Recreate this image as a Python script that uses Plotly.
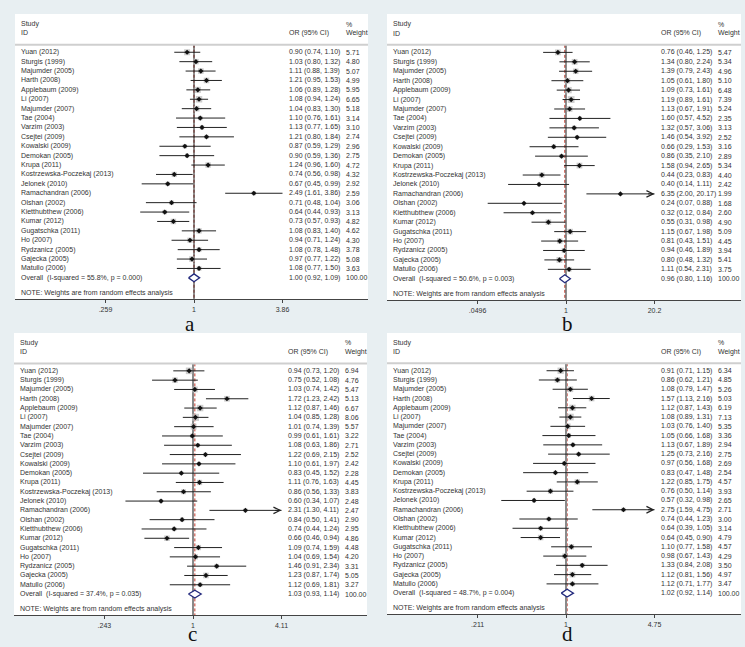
import numpy as np
import plotly.graph_objects as go

studies = ["Yuan (2012)", "Sturgis (1999)", "Majumder (2005)", "Harth (2008)", "Applebaum (2009)",
           "Li (2007)", "Majumder (2007)", "Tae (2004)", "Varzim (2003)", "Csejtei (2009)",
           "Kowalski (2009)", "Demokan (2005)", "Krupa (2011)", "Kostrzewska-Poczekaj (2013)",
           "Jelonek (2010)", "Ramachandran (2006)", "Olshan (2002)", "Kietthubthew (2006)",
           "Kumar (2012)", "Gugatschka (2011)", "Ho (2007)", "Rydzanicz (2005)", "Gajecka (2005)",
           "Matullo (2006)"]

# Panel a
a_or = [0.90, 1.03, 1.11, 1.21, 1.06, 1.08, 1.04, 1.10, 1.13, 1.21, 0.87, 0.90, 1.24, 0.74, 0.67, 2.49, 0.71, 0.64, 0.73, 1.08, 0.94, 1.08, 0.97, 1.08]
a_lo = [0.74, 0.80, 0.88, 0.95, 0.89, 0.94, 0.83, 0.76, 0.77, 0.80, 0.59, 0.59, 0.96, 0.56, 0.45, 1.61, 0.48, 0.44, 0.57, 0.83, 0.71, 0.78, 0.77, 0.77]
a_hi = [1.10, 1.32, 1.39, 1.53, 1.28, 1.24, 1.30, 1.61, 1.65, 1.84, 1.29, 1.36, 1.60, 0.98, 0.99, 3.86, 1.04, 0.93, 0.93, 1.40, 1.24, 1.48, 1.22, 1.50]
a_w = [5.71, 4.80, 5.07, 4.99, 5.95, 6.65, 5.18, 3.14, 3.10, 2.74, 2.96, 2.75, 4.72, 4.32, 2.92, 2.59, 3.06, 3.13, 4.82, 4.62, 4.30, 3.78, 5.08, 3.63]
a_overall = [1.00, 0.92, 1.09]
a_stats = ["55.8%", "0.000"]
a_ticks = [0.259, 1, 3.86]
a_ticktext = [".259", "1", "3.86"]

# Panel b
b_or = [0.76, 1.34, 1.39, 1.05, 1.09, 1.19, 1.13, 1.60, 1.32, 1.46, 0.66, 0.86, 1.58, 0.44, 0.40, 6.35, 0.24, 0.32, 0.55, 1.15, 0.81, 0.94, 0.80, 1.11]
b_lo = [0.46, 0.80, 0.79, 0.61, 0.73, 0.89, 0.67, 0.57, 0.57, 0.54, 0.29, 0.35, 0.94, 0.23, 0.14, 2.00, 0.07, 0.12, 0.31, 0.67, 0.43, 0.46, 0.48, 0.54]
b_hi = [1.25, 2.24, 2.43, 1.80, 1.61, 1.61, 1.91, 4.52, 3.06, 3.92, 1.53, 2.10, 2.65, 0.83, 1.11, 20.17, 0.88, 0.84, 0.98, 1.98, 1.51, 1.89, 1.32, 2.31]
b_w = [5.47, 5.34, 4.96, 5.10, 6.48, 7.39, 5.24, 2.35, 3.13, 2.52, 3.16, 2.89, 5.34, 4.40, 2.42, 1.99, 1.68, 2.60, 4.90, 5.09, 4.45, 3.94, 5.41, 3.75]
b_overall = [0.96, 0.80, 1.16]
b_stats = ["50.6%", "0.003"]
b_ticks = [0.0496, 1, 20.2]
b_ticktext = [".0496", "1", "20.2"]

# Panel c
c_or = [0.94, 0.75, 1.03, 1.72, 1.12, 1.04, 1.01, 0.99, 1.08, 1.22, 1.10, 0.83, 1.11, 0.86, 0.60, 2.31, 0.84, 0.74, 0.66, 1.09, 1.04, 1.46, 1.23, 1.12]
c_lo = [0.73, 0.52, 0.74, 1.23, 0.87, 0.85, 0.74, 0.61, 0.63, 0.69, 0.61, 0.45, 0.76, 0.56, 0.34, 1.30, 0.50, 0.44, 0.46, 0.74, 0.69, 0.91, 0.87, 0.69]
c_hi = [1.20, 1.08, 1.42, 2.42, 1.46, 1.28, 1.39, 1.61, 1.86, 2.15, 1.97, 1.52, 1.63, 1.33, 1.07, 4.11, 1.41, 1.24, 0.94, 1.59, 1.54, 2.34, 1.74, 1.81]
c_w = [6.94, 4.76, 5.47, 5.13, 6.67, 8.06, 5.57, 3.22, 2.71, 2.52, 2.42, 2.28, 4.45, 3.83, 2.48, 2.47, 2.90, 2.95, 4.86, 4.48, 4.20, 3.31, 5.05, 3.27]
c_overall = [1.03, 0.93, 1.14]
c_stats = ["37.4%", "0.035"]
c_ticks = [0.243, 1, 4.11]
c_ticktext = [".243", "1", "4.11"]

# Panel d
d_or = [0.91, 0.86, 1.08, 1.57, 1.12, 1.08, 1.03, 1.05, 1.13, 1.25, 0.97, 0.83, 1.22, 0.76, 0.57, 2.75, 0.74, 0.64, 0.64, 1.10, 0.98, 1.33, 1.12, 1.12]
d_lo = [0.71, 0.62, 0.79, 1.13, 0.87, 0.89, 0.76, 0.66, 0.67, 0.73, 0.56, 0.47, 0.85, 0.50, 0.32, 1.59, 0.44, 0.39, 0.45, 0.77, 0.67, 0.84, 0.81, 0.71]
d_hi = [1.15, 1.21, 1.47, 2.16, 1.43, 1.31, 1.40, 1.68, 1.89, 2.16, 1.68, 1.48, 1.75, 1.14, 0.98, 4.75, 1.23, 1.05, 0.90, 1.58, 1.43, 2.08, 1.56, 1.77]
d_w = [6.34, 4.85, 5.26, 5.03, 6.19, 7.13, 5.35, 3.36, 2.94, 2.75, 2.69, 2.54, 4.57, 3.93, 2.65, 2.71, 3.00, 3.14, 4.79, 4.57, 4.29, 3.50, 4.97, 3.47]
d_overall = [1.02, 0.92, 1.14]
d_stats = ["48.7%", "0.004"]
d_ticks = [0.211, 1, 4.75]
d_ticktext = [".211", "1", "4.75"]

panel_letters = ["a", "b", "c", "d"]

W, H = 745, 647
FONT = "Liberation Sans, Arial, sans-serif"
TXT = "#333333"

panels = [
    dict(OR=a_or, lo=a_lo, hi=a_hi, w=a_w, ov=a_overall, st=a_stats, ticks=a_ticks, tt=a_ticktext,
         box=(15, 14, 368, 299), letter=(190, 324, "middle"), arrow=None, null=("#222222", 1)),
    dict(OR=b_or, lo=b_lo, hi=b_hi, w=b_w, ov=b_overall, st=b_stats, ticks=b_ticks, tt=b_ticktext,
         box=(387, 14, 741, 300), letter=(567, 324, "middle"), arrow="Ramachandran (2006)", null=("#222222", 1)),
    dict(OR=c_or, lo=c_lo, hi=c_hi, w=c_w, ov=c_overall, st=c_stats, ticks=c_ticks, tt=c_ticktext,
         box=(14, 333, 367, 615), letter=(192, 647, "bottom"), arrow="Ramachandran (2006)", null=("#8a8a8a", 2)),
    dict(OR=d_or, lo=d_lo, hi=d_hi, w=d_w, ov=d_overall, st=d_stats, ticks=d_ticks, tt=d_ticktext,
         box=(387, 333, 741, 614), letter=(567, 647, "bottom"), arrow="Ramachandran (2006)", null=("#8a8a8a", 2)),
]

fig = go.Figure()
layout_axes = {}
annotations = []
shapes = []

Y_TOP, Y_BOT = -4.07, 26.25
HDR_LINE = -0.8
n = len(studies)
rows = list(range(n))
ov_row = n


def ann(text, px, y, yref, size=7, color=TXT):
    annotations.append(dict(text=text, x=px / W, xref="paper", y=y, yref=yref,
                            xanchor="left", yanchor="middle", showarrow=False,
                            font=dict(family=FONT, size=size, color=color)))


for k, P in enumerate(panels):
    idx = "" if k == 0 else str(k + 1)
    xa, ya = "x" + idx, "y" + idx
    L, T, R, B = P["box"]
    maxt = P["ticks"][-1]
    ppu = 88.5 / np.log(maxt)
    null_off = 179.0
    rng = [(-null_off / ppu) / np.log(10), ((R - L - null_off) / ppu) / np.log(10)]
    layout_axes["xaxis" + idx] = dict(
        domain=[L / W, R / W], anchor=ya, type="log", range=rng,
        tickvals=P["ticks"], ticktext=P["tt"], ticks="outside", ticklen=3,
        tickcolor="#444444", showline=True, linecolor="#444444", linewidth=1.2,
        showgrid=False, zeroline=False, fixedrange=True,
        tickfont=dict(family=FONT, size=7, color=TXT))
    layout_axes["yaxis" + idx] = dict(
        domain=[1 - B / H, 1 - T / H], anchor=xa, range=[Y_BOT, Y_TOP],
        visible=False, fixedrange=True)

    ov, ovlo, ovhi = P["ov"]
    # overall (red dashed) line and null line
    fig.add_trace(go.Scatter(x=[ov, ov], y=[HDR_LINE, Y_BOT], mode="lines", xaxis=xa, yaxis=ya,
                             line=dict(color="#c0392b", width=1, dash="3px,2px"), hoverinfo="skip"))
    fig.add_trace(go.Scatter(x=[1, 1], y=[HDR_LINE, Y_BOT], mode="lines", xaxis=xa, yaxis=ya,
                             line=dict(color=P["null"][0], width=P["null"][1]), hoverinfo="skip"))
    # boxes
    fig.add_trace(go.Scatter(x=P["OR"], y=rows, mode="markers", xaxis=xa, yaxis=ya,
                             marker=dict(symbol="square", size=[2.5 * np.sqrt(w) for w in P["w"]],
                                         color="#b8b8b8", line=dict(width=0)), hoverinfo="skip"))
    # CI lines
    xs, ys = [], []
    for i in rows:
        hi = P["hi"][i]
        if P["arrow"] == studies[i]:
            hi = min(hi, maxt)
        xs += [P["lo"][i], hi, None]
        ys += [i, i, None]
    fig.add_trace(go.Scatter(x=xs, y=ys, mode="lines", xaxis=xa, yaxis=ya,
                             line=dict(color="#222222", width=1), hoverinfo="skip"))
    # centers
    fig.add_trace(go.Scatter(x=P["OR"], y=rows, mode="markers", xaxis=xa, yaxis=ya,
                             marker=dict(symbol="diamond", size=4, color="#111111", line=dict(width=0)),
                             hoverinfo="skip"))
    # arrow
    if P["arrow"] is not None:
        i = studies.index(P["arrow"])
        annotations.append(dict(text="", x=np.log10(maxt), y=i, xref=xa, yref=ya, ax=-8, ay=0,
                                showarrow=True, arrowhead=5, arrowsize=1.3, arrowwidth=1,
                                arrowcolor="#222222", standoff=0))
    # overall diamond
    h = 0.42
    fig.add_trace(go.Scatter(x=[ovlo, ov, ovhi, ov, ovlo], y=[ov_row, ov_row - h, ov_row, ov_row + h, ov_row],
                             mode="lines", fill="toself", fillcolor="white", xaxis=xa, yaxis=ya,
                             line=dict(color="#232a7d", width=1.3), hoverinfo="skip"))
    # header separator
    shapes.append(dict(type="line", xref=xa + " domain", x0=0, x1=1, yref=ya, y0=HDR_LINE, y1=HDR_LINE,
                       line=dict(color="#cfcfcf", width=2)))

    # text
    xl, xo, xw = L + 4, L + 272, L + 329
    ann("Study", xl, -3.0, ya)
    ann("ID", xl, -2.05, ya)
    ann("OR (95% CI)", xo, -2.05, ya)
    ann("%", xw, -3.0, ya)
    ann("Weight", xw, -2.05, ya)
    for i in rows:
        ann(studies[i], xl, i, ya)
        ann(f"{P['OR'][i]:.2f} ({P['lo'][i]:.2f}, {P['hi'][i]:.2f})", xo, i, ya)
        ann(f"{P['w'][i]:.2f}", xw, i, ya)
    ann(f"Overall\u00a0 (I-squared = {P['st'][0]}, p = {P['st'][1]})", xl, ov_row, ya)
    ann(f"{ov:.2f} ({ovlo:.2f}, {ovhi:.2f})", xo, ov_row, ya)
    ann("100.00", xw, ov_row, ya)
    ann("NOTE: Weights are from random effects analysis", xl, 25.65, ya)

    lx, ly, anc = P["letter"]
    annotations.append(dict(text=panel_letters[k], x=lx / W, y=1 - ly / H, xref="paper", yref="paper",
                            xanchor="center", yanchor=anc, showarrow=False, borderpad=0,
                            font=dict(family="Liberation Serif, Times New Roman, serif", size=21, color="#111111")))

fig.update_layout(
    width=W, height=H, autosize=False,
    margin=dict(l=0, r=0, t=0, b=0),
    paper_bgcolor="#e8eff2", plot_bgcolor="white",
    showlegend=False, annotations=annotations, shapes=shapes,
    **layout_axes)

fig.write_html("out.html", config={"displayModeBar": False},
               post_script="document.body.style.margin='0';document.body.style.overflow='hidden';")
